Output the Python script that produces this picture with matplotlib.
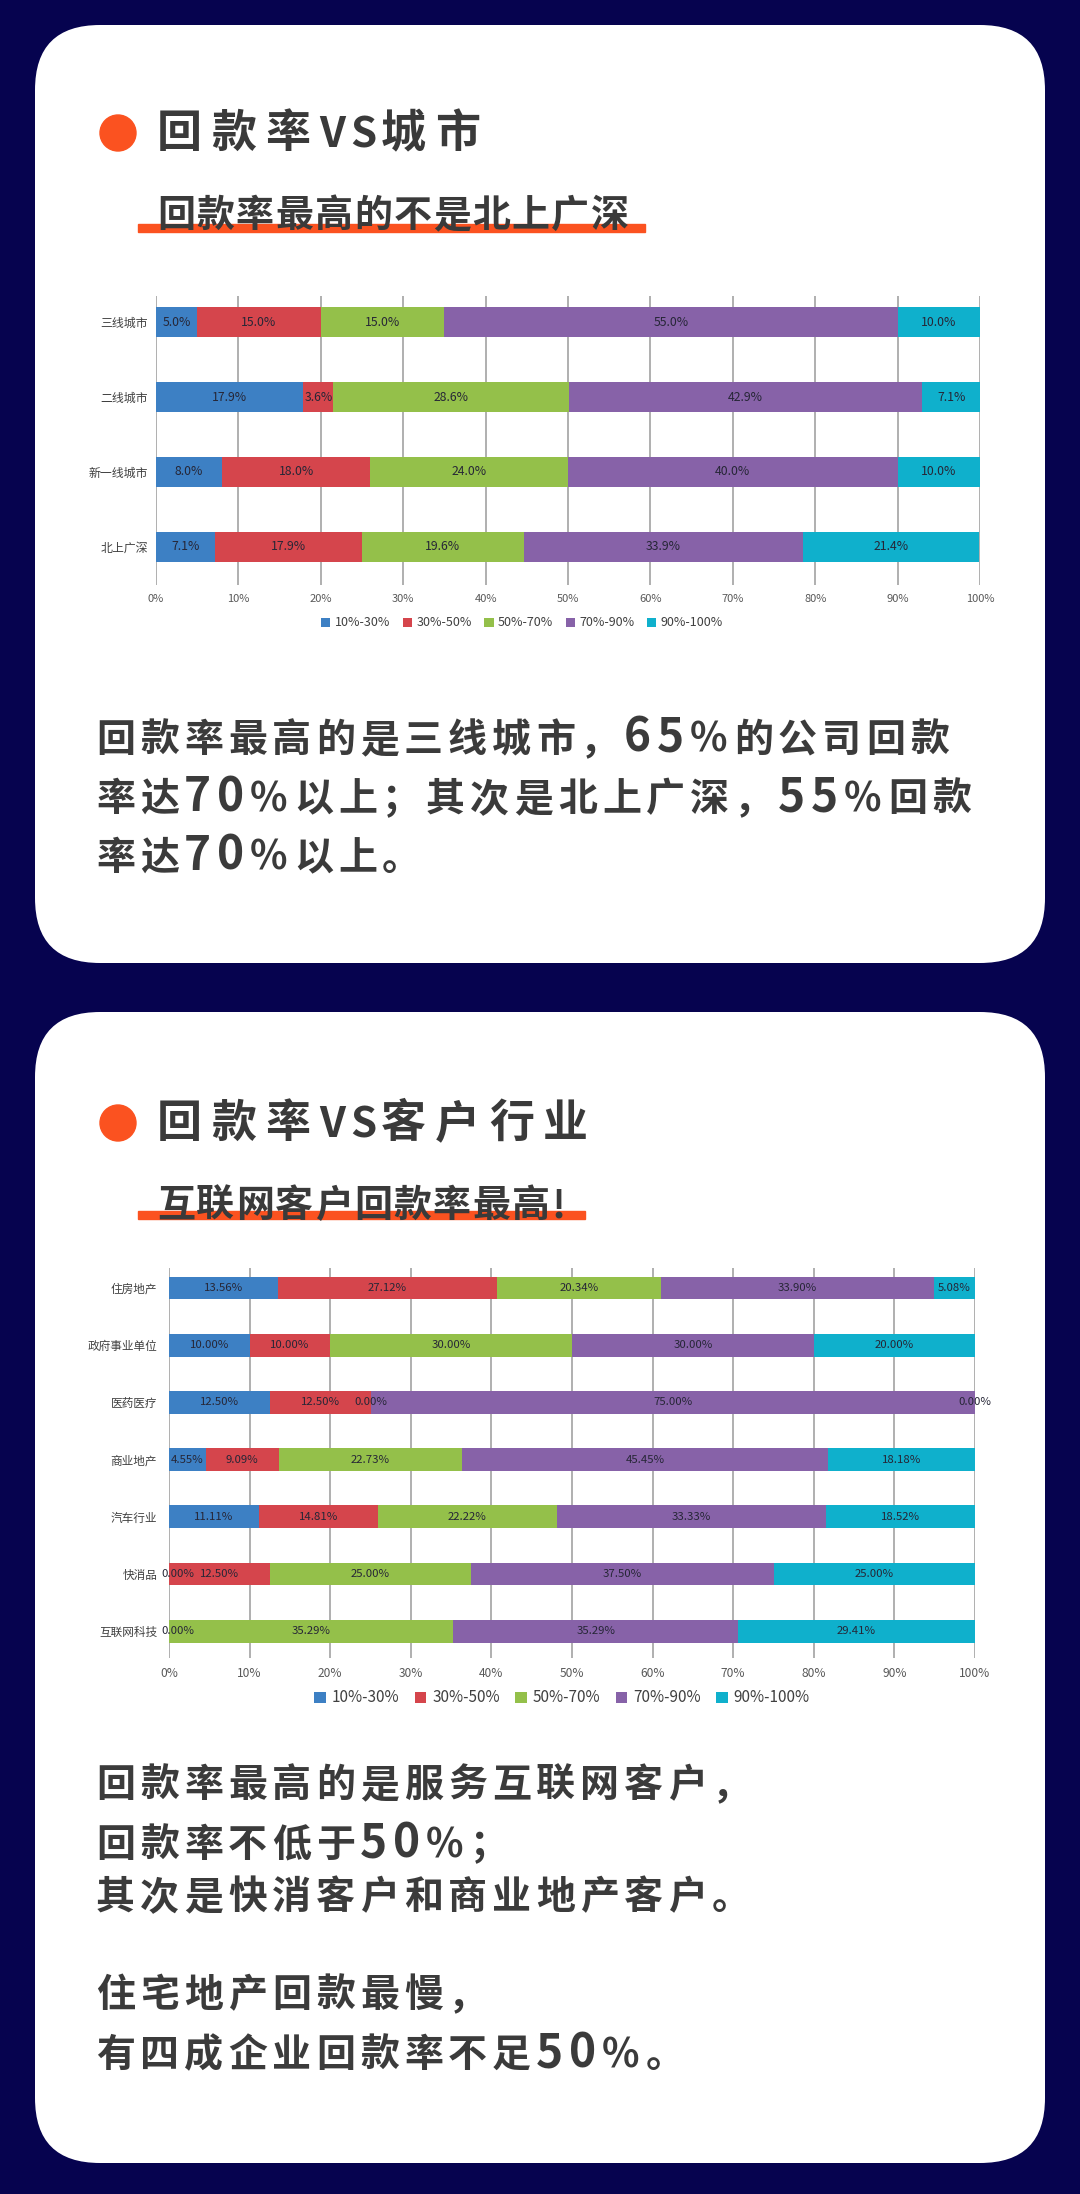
import matplotlib
matplotlib.use('Agg')
import matplotlib.pyplot as plt
from matplotlib.patches import FancyBboxPatch, Rectangle, Circle
import numpy as np

plt.rcParams['font.family'] = ['Noto Sans CJK SC', 'DejaVu Sans']

W, H = 1080, 2194
NAVY = '#06034f'
ORANGE = '#fb5220'
INK = '#3b3b3b'
SEG_COLORS = ['#3d80c4', '#d5454c', '#94c04a', '#8762a8', '#0fb0cc']

# ---- data ----
bands = ['10%-30%', '30%-50%', '50%-70%', '70%-90%', '90%-100%']

cities = ['三线城市', '二线城市', '新一线城市', '北上广深']
city_10_30 = [5.0, 17.9, 8.0, 7.1]
city_30_50 = [15.0, 3.6, 18.0, 17.9]
city_50_70 = [15.0, 28.6, 24.0, 19.6]
city_70_90 = [55.0, 42.9, 40.0, 33.9]
city_90_100 = [10.0, 7.1, 10.0, 21.4]

industries = ['住房地产', '政府事业单位', '医药医疗', '商业地产', '汽车行业', '快消品', '互联网科技']
ind_10_30 = [13.56, 10.00, 12.50, 4.55, 11.11, 0.00, 0.00]
ind_30_50 = [27.12, 10.00, 12.50, 9.09, 14.81, 12.50, 0.00]
ind_50_70 = [20.34, 30.00, 0.00, 22.73, 22.22, 25.00, 35.29]
ind_70_90 = [33.90, 30.00, 75.00, 45.45, 33.33, 37.50, 35.29]
ind_90_100 = [5.08, 20.00, 0.00, 18.18, 18.52, 25.00, 29.41]

title1 = '回款率VS城市'
sub1 = '回款率最高的不是北上广深'
body1 = ['回款率最高的是三线城市，65%的公司回款',
         '率达70%以上；其次是北上广深，55%回款',
         '率达70%以上。']

title2 = '回款率VS客户行业'
sub2 = '互联网客户回款率最高!'
body2 = ['回款率最高的是服务互联网客户，',
         '回款率不低于50%；',
         '其次是快消客户和商业地产客户。',
         '住宅地产回款最慢，',
         '有四成企业回款率不足50%。']

fig = plt.figure(figsize=(W / 100, H / 100), dpi=100)
fig.patch.set_facecolor(NAVY)
bg = fig.add_axes([0, 0, 1, 1])
bg.set_xlim(0, W)
bg.set_ylim(H, 0)
bg.axis('off')


def spaced(x, y, s, px, adv, latin_px, digit_adv, pct_adv, other_adv,
           weight='bold', color=INK):
    # draw char by char to mimic the letter spacing of the poster
    for ch in s:
        wide = ord(ch) > 0x2000
        size = px if (wide or ch == '%') else latin_px
        bg.text(x, y, ch, fontsize=size * 0.72,
                fontweight=weight, color=color, ha='left', va='baseline')
        if wide:
            x += adv
        elif ch.isdigit():
            x += digit_adv
        elif ch == '%':
            x += pct_adv
        else:
            x += other_adv


def card(top, bottom, title, sub, sub_end, title_base, sub_base, bar_y):
    bg.add_patch(FancyBboxPatch((35, top), 1010, bottom - top,
                                boxstyle='round,pad=0,rounding_size=65',
                                fc='white', ec='none'))
    bg.add_patch(Circle((118, title_base - 14), 18, color=ORANGE))
    spaced(157, title_base, title, 45, 54, 42, 31, 40, 31,
           weight='heavy', color='#3a3a3a')
    bg.add_patch(Rectangle((138, bar_y), sub_end - 138, 8, color=ORANGE, zorder=1))
    spaced(157, sub_base, sub, 38, 39.4, 38, 24, 30, 18,
           weight='heavy', color='#3a3a3a')


card(25, 963, title1, sub1, 645, 147, 227, 224)
card(1012, 2163, title2, sub2, 585, 1137, 1217, 1211)

for line, base in zip(body1, [752, 811, 870]):
    spaced(96, base, line, 39, 44, 46, 33, 44, 30)
for line, base in zip(body2, [1797, 1857, 1909, 2007, 2067]):
    spaced(96, base, line, 39, 44, 46, 33, 44, 30)


def px_axes(x0, y0, x1, y1):
    return fig.add_axes([x0 / W, 1 - y1 / H, (x1 - x0) / W, (y1 - y0) / H])


def stacked(ax, cats, series, fmt, label_pt, ylim, cat_pt, cat_pad, tick_pt):
    y = np.arange(len(cats))
    left = np.zeros(len(cats))
    seen = set()
    for vals, color, name in zip(series, SEG_COLORS, bands):
        vals = np.asarray(vals, dtype=float)
        ax.barh(y, vals, left=left, height=0.4, color=color, zorder=2, label=name)
        for yi, (l, v) in enumerate(zip(left, vals)):
            key = (yi, round(l + v / 2, 2))
            if key in seen:
                continue
            seen.add(key)
            if v == 0 and l == 0:
                # zero-width first segment: label sits just past the axis start
                ax.text(-1.0, yi, fmt.format(v), ha='left', va='center',
                        fontsize=label_pt, color='#262636', zorder=3)
            else:
                ax.text(l + v / 2, yi, fmt.format(v), ha='center', va='center',
                        fontsize=label_pt, color='#262636', zorder=3)
        left += vals
    ax.set_xlim(0, 100)
    ax.set_ylim(*ylim)
    ax.set_yticks(y)
    ax.set_yticklabels(cats)
    ax.set_xticks(np.arange(0, 101, 10))
    ax.set_xticklabels(['{}%'.format(v) for v in range(0, 101, 10)])
    ax.grid(axis='x', color='#a9a9a9', lw=1.3, zorder=1)
    ax.set_axisbelow(True)
    for sp in ax.spines.values():
        sp.set_visible(False)
    ax.tick_params(axis='y', length=0, pad=cat_pad, labelsize=cat_pt, labelcolor='#404040')
    ax.tick_params(axis='x', length=0, pad=6.5, labelsize=tick_pt, labelcolor='#595959')
    ax.set_facecolor('none')


ax1 = px_axes(156, 296, 980, 585)
stacked(ax1, cities, [city_10_30, city_30_50, city_50_70, city_70_90, city_90_100],
        '{:.1f}%', 8.8, (3.507, -0.347), 8.6, 5.8, 8)
ax1.legend(loc='center', bbox_to_anchor=(522 / W, 1 - 623 / H), bbox_transform=fig.transFigure,
           ncol=5, frameon=False, fontsize=9, handlelength=0.75, handleheight=0.75,
           handletextpad=0.35, columnspacing=1.0, labelcolor='#404040')

ax2 = px_axes(169, 1268, 975, 1658)
stacked(ax2, industries, [ind_10_30, ind_30_50, ind_50_70, ind_70_90, ind_90_100],
        '{:.2f}%', 8.2, (6.47, -0.35), 8.4, 8.6, 8.6)
ax2.legend(loc='center', bbox_to_anchor=(562 / W, 1 - 1698 / H), bbox_transform=fig.transFigure,
           ncol=5, frameon=False, fontsize=11, handlelength=0.75, handleheight=0.75,
           handletextpad=0.4, columnspacing=1.0, labelcolor='#404040')

fig.savefig('out.png', dpi=100, facecolor=NAVY)
